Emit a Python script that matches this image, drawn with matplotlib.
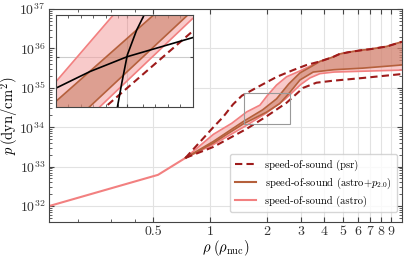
import numpy as np
import matplotlib.pyplot as plt
from matplotlib.patches import Rectangle
from matplotlib.ticker import NullFormatter

plt.rcParams['font.family'] = ['cmr10', 'DejaVu Serif']
plt.rcParams['mathtext.fontset'] = 'cm'
plt.rcParams['axes.formatter.use_mathtext'] = True

# densite en rho_nuc, pression en log10(dyn/cm^2)
crust_rho = [0.1416, 0.53, 0.74]
crust_logp = [32.0, 32.79, 33.22]

# partie commune au bord haut apres rho ~ 3.8
tail_rho = [3.80, 4.44, 4.83, 5.46, 6.40, 6.97, 8.57, 10.3]
tail_logp = [35.67, 35.78, 35.86, 35.91, 35.96, 35.98, 36.05, 36.17]

psr_up_rho = [0.74, 0.80, 0.92, 1.03, 1.17, 1.32, 1.47, 1.83, 2.25, 2.74, 3.23]
psr_up_logp = [33.22, 33.40, 33.72, 33.98, 34.26, 34.58, 34.80, 35.05, 35.28, 35.45, 35.58]
psr_lo_rho = [0.74, 1.04, 1.56, 1.99, 2.53, 3.1, 3.64, 4.45, 6.4, 10.3]
psr_lo_logp = [33.22, 33.50, 33.96, 34.28, 34.62, 35.0, 35.13, 35.18, 35.25, 35.35]

astro_up_rho = [0.74, 1.04, 1.3, 1.56, 1.83, 2.0, 2.24, 2.53, 2.98, 3.36]
astro_up_logp = [33.22, 33.82, 34.1, 34.39, 34.56, 34.80, 35.07, 35.28, 35.43, 35.55]
astro_lo_rho = [0.74, 1.04, 1.56, 1.98, 2.5, 3.0, 3.36, 3.8, 4.5, 10.3]
astro_lo_logp = [33.22, 33.56, 34.05, 34.36, 34.72, 35.08, 35.25, 35.36, 35.40, 35.45]

p2_up_rho = [0.74, 1.04, 1.49, 1.89, 2.24, 2.6, 2.98, 3.36]
p2_up_logp = [33.22, 33.64, 34.14, 34.44, 34.72, 35.10, 35.38, 35.52]
p2_lo_rho = [0.74, 1.04, 1.49, 1.98, 2.33, 2.63, 2.98, 3.5, 4.5, 6.4, 10.3]
p2_lo_logp = [33.22, 33.60, 34.08, 34.38, 34.60, 34.88, 35.20, 35.40, 35.46, 35.50, 35.58]

# zoom (encart)
box_rho = [1.51, 2.64]
box_logp = [34.08, 34.87]
in_astro_up = ([1.5, 2.6], [34.32, 35.70])
in_astro_lo = ([1.5, 2.6], [33.74, 34.87])
in_p2_up = ([1.5, 2.6], [34.15, 35.20])
in_p2_lo = ([1.5, 2.6], [33.83, 34.94])
in_psr = ([1.5, 2.6], [33.73, 34.76])
in_black1 = ([1.5, 1.775, 2.075, 2.6], [34.265, 34.41, 34.539, 34.704])
in_black2 = ([1.995, 2.03, 2.075, 2.15, 2.21, 2.25], [34.1, 34.308, 34.554, 34.77, 34.9, 35.0])

c_psr = '#9e1b1b'
c_p2 = '#b5603c'
c_astro = '#f28080'
f_astro = '#f4a7a7'


def band(ax, up_r, up_l, lo_r, lo_l, col, a):
    xs = list(up_r) + list(lo_r)[::-1]
    ys = list(up_l) + list(lo_l)[::-1]
    ax.fill(xs, 10 ** np.array(ys), color=col, alpha=a, lw=0)


fig = plt.figure(figsize=(4.07, 2.59), dpi=100)
ax = fig.add_axes([0.1216, 0.144, 0.866, 0.821])
ax.set_xscale('log')
ax.set_yscale('log')

a_up_r = astro_up_rho + tail_rho
a_up_l = astro_up_logp + tail_logp
p_up_r = p2_up_rho + tail_rho
p_up_l = p2_up_logp + tail_logp
s_up_r = psr_up_rho + tail_rho
s_up_l = psr_up_logp + tail_logp

band(ax, a_up_r, a_up_l, astro_lo_rho, astro_lo_logp, f_astro, 0.6)
band(ax, p_up_r, p_up_l, p2_lo_rho, p2_lo_logp, c_p2, 0.4)

ax.plot(crust_rho, 10 ** np.array(crust_logp), color=c_astro, lw=1.5)
ax.plot(a_up_r, 10 ** np.array(a_up_l), color=c_astro, lw=1.2)
ax.plot(astro_lo_rho, 10 ** np.array(astro_lo_logp), color=c_astro, lw=1.2)
ax.plot(p_up_r, 10 ** np.array(p_up_l), color=c_p2, lw=1.2)
ax.plot(p2_lo_rho, 10 ** np.array(p2_lo_logp), color=c_p2, lw=1.2)
ax.plot(s_up_r, 10 ** np.array(s_up_l), color=c_psr, lw=1.5, ls=(0, (3.5, 2)))
ax.plot(psr_lo_rho, 10 ** np.array(psr_lo_logp), color=c_psr, lw=1.5, ls=(0, (3.5, 2)))

ax.add_patch(Rectangle((box_rho[0], 10 ** box_logp[0]), box_rho[1] - box_rho[0],
                       10 ** box_logp[1] - 10 ** box_logp[0], fill=False, ec='#999999', lw=0.8, zorder=5))

# legende
ax.plot([], [], color=c_psr, lw=1.5, ls=(0, (3.5, 2)), label='speed-of-sound (psr)')
ax.plot([], [], color=c_p2, lw=1.5, label=r'speed-of-sound (astro+$p_{2.0}$)')
ax.plot([], [], color=c_astro, lw=1.5, label='speed-of-sound (astro)')
ax.legend(loc='lower right', fontsize=7.6, framealpha=0.8, edgecolor='#cccccc',
          borderpad=0.5, handlelength=2.0, labelspacing=0.45, bbox_to_anchor=(1.0, 0.02))

ax.set_xlim(0.1416, 10.3)
ax.set_ylim(10 ** 31.6, 1e37)
xt = [0.5, 1, 2, 3, 4, 5, 6, 7, 8, 9]
ax.set_xticks(xt)
ax.set_xticklabels(['0.5', '1', '2', '3', '4', '5', '6', '7', '8', '9'])
ax.set_xticks([0.2, 0.3, 0.4], minor=True)
ax.xaxis.set_minor_formatter(NullFormatter())
yt = [1e32, 1e33, 1e34, 1e35, 1e36, 1e37]
ax.set_yticks(yt)
ax.set_yticklabels([r'$10^{%d}$' % k for k in range(32, 38)])
ax.tick_params(which='both', direction='in', top=True, right=True, labelsize=10, colors='#444444',
               labelcolor='#333333', pad=3)
ax.grid(True, which='major', color='#e2e2e2', lw=0.8)
ax.set_axisbelow(True)
for s in ax.spines.values():
    s.set_color('#444444')
ax.set_xlabel(r'$\rho\;(\rho_{\rm nuc})$', fontsize=10.5, labelpad=0)
ax.set_ylabel(r'$p\,(\mathrm{dyn/cm^2})$', fontsize=10.5, labelpad=-1)

# encart
ins = fig.add_axes([0.1369, 0.5857, 0.3366, 0.3564])
band(ins, *in_astro_up, *in_astro_lo, f_astro, 0.6)
band(ins, *in_p2_up, *in_p2_lo, c_p2, 0.4)
ins.plot(in_astro_up[0], 10 ** np.array(in_astro_up[1]), color=c_astro, lw=1.2)
ins.plot(in_astro_lo[0], 10 ** np.array(in_astro_lo[1]), color=c_astro, lw=1.2)
ins.plot(in_p2_up[0], 10 ** np.array(in_p2_up[1]), color=c_p2, lw=1.2)
ins.plot(in_p2_lo[0], 10 ** np.array(in_p2_lo[1]), color=c_p2, lw=1.2)
ins.plot(in_psr[0], 10 ** np.array(in_psr[1]), color=c_psr, lw=1.5, ls=(0, (3.5, 2)))
ins.plot(in_black1[0], 10 ** np.array(in_black1[1]), color='black', lw=1.2)
ins.plot(in_black2[0], 10 ** np.array(in_black2[1]), color='black', lw=1.2)
ins.set_yscale('log')
ins.set_xlim(1.5, 2.6)
ins.set_ylim(10 ** 34.1, 10 ** 34.9)
ins.set_xticks([2.075])
ins.set_xticks([1.6, 1.7, 1.8, 1.9, 2.0, 2.2, 2.3, 2.4, 2.5], minor=True)
ins.set_yticks([10 ** 34.539])
ins.set_yticks([], minor=True)
ins.set_xticklabels([])
ins.set_yticklabels([])
ins.xaxis.set_minor_formatter(NullFormatter())
ins.yaxis.set_minor_formatter(NullFormatter())
ins.tick_params(which='both', direction='in', top=True, right=True, length=2, colors='#444444')
ins.grid(True, which='major', color='#cccccc', lw=0.8)
ins.set_axisbelow(True)
for s in ins.spines.values():
    s.set_color('#444444')

fig.savefig('out.png', dpi=100)
